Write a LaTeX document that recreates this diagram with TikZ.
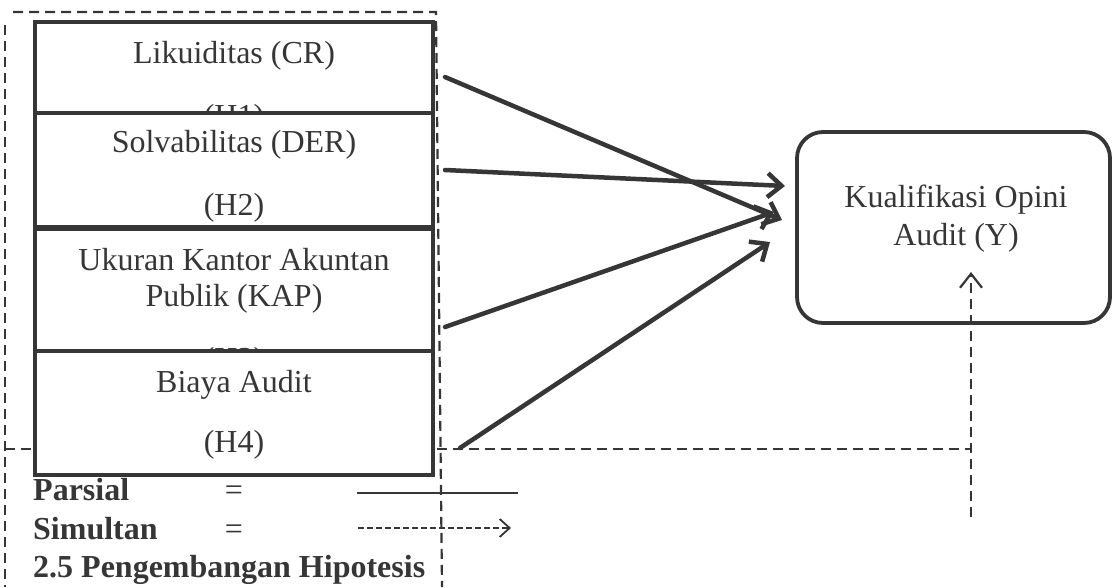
\documentclass[tikz,border=0pt]{standalone}
\usepackage{fontspec}
\setmainfont{Liberation Serif}
\usetikzlibrary{arrows.meta}
\definecolor{ink}{HTML}{363636}
\begin{document}
\begin{tikzpicture}[x=1pt,y=-1pt,
  txt/.style={font=\fontsize{32}{38}\selectfont, text=ink, inner sep=0pt, anchor=base},
  leg/.style={font=\fontsize{32}{38}\selectfont\bfseries, text=ink, inner sep=0pt, anchor=base west},
  legeq/.style={font=\fontsize{32}{38}\selectfont, text=ink, inner sep=0pt, anchor=base},
  varbox/.style={draw=ink, line width=3.8pt, fill=white, minimum width=398pt, inner sep=0pt, outer sep=0pt, anchor=north west},
  ybox/.style={draw=ink, line width=3.8pt, rounded corners=26pt, minimum width=313pt, minimum height=191pt, inner sep=0pt, outer sep=0pt, anchor=north west},
  frame/.style={draw=ink, line width=2.2pt, dash pattern=on 10pt off 6pt},
  effect/.style={draw=ink, line width=4.5pt, line cap=round, -{Straight Barb[length=14pt,width=24pt]}},
  simline/.style={draw=ink, line width=2.2pt, dash pattern=on 10pt off 6pt, -{Straight Barb[length=14pt,width=22pt]}},
  legline/.style={draw=ink, line width=1.6pt},
  legdash/.style={draw=ink, line width=1.8pt, dash pattern=on 6pt off 3pt, -{Straight Barb[length=10pt,width=18pt]}}
]
\useasboundingbox (0,0) rectangle (1113,587);
\fill[white] (0,0) rectangle (1113,587);

% dashed frame
\coordinate (ftl) at (13,12);
\coordinate (ftr) at (436,12);
\coordinate (fbr) at (442,587);
\coordinate (flt) at (5,25);
\coordinate (flb) at (5,587);
\draw[frame] (ftl) -- (ftr) -- (fbr);
\draw[frame] (flt) -- (flb);

% simultaneous dashed line
\coordinate (hl) at (5,449);
\coordinate (hc) at (971,449);
\draw[frame] (hl) -- (hc);

% variable boxes
\node[varbox, minimum height=106pt] (b1) at (35,22) {};
\node[txt] (t1a) at (234,63) {Likuiditas (CR)};
\node[txt] (t1b) at (234,126) {(H1)};
\node[varbox, minimum height=114pt] (b2) at (35,113) {};
\node[txt] (t2a) at (234,152) {Solvabilitas (DER)};
\node[txt] (t2b) at (234,215) {(H2)};
\node[varbox, minimum height=122pt] (b3) at (35,229) {};
\node[txt] (t3a) at (234,270) {Ukuran Kantor Akuntan};
\node[txt] (t3b) at (234,306) {Publik (KAP)};
\node[txt] (t3c) at (234,369) {(H3)};
\node[varbox, minimum height=124pt] (b4) at (35,351) {};
\node[txt] (t4a) at (234,392) {Biaya Audit};
\node[txt] (t4b) at (234,452) {(H4)};

% dependent variable
\node[ybox] (y) at (797,132) {};
\node[txt] (ya) at (956,207) {Kualifikasi Opini};
\node[txt] (yb) at (956,245) {Audit (Y)};

% partial arrows
\coordinate (a1s) at (445,77);
\coordinate (a1e) at (782,220);
\coordinate (a2s) at (445,170);
\coordinate (a2e) at (785,186);
\coordinate (a3s) at (445,327);
\coordinate (a3e) at (774,212);
\coordinate (a4s) at (460,448);
\coordinate (a4e) at (770,242);
\draw[effect] (a1s) -- (a1e);
\draw[effect] (a2s) -- (a2e);
\draw[effect] (a3s) -- (a3e);
\draw[effect] (a4s) -- (a4e);

% simultaneous arrow up
\coordinate (vb) at (971,517);
\coordinate (vt) at (971,272);
\draw[simline] (vb) -- (vt);

% legend
\node[leg] (lp) at (33,500) {Parsial};
\node[legeq] (lpe) at (234,500) {=};
\coordinate (lp1) at (357,493);
\coordinate (lp2) at (518,493);
\draw[legline] (lp1) -- (lp2);
\node[leg] (ls) at (33,539) {Simultan};
\node[legeq] (lse) at (234,539) {=};
\coordinate (ls1) at (358,528);
\coordinate (ls2) at (511,528);
\draw[legdash] (ls1) -- (ls2);
\node[leg] (lh) at (33,577) {2.5 Pengembangan Hipotesis};
\end{tikzpicture}
\end{document}
